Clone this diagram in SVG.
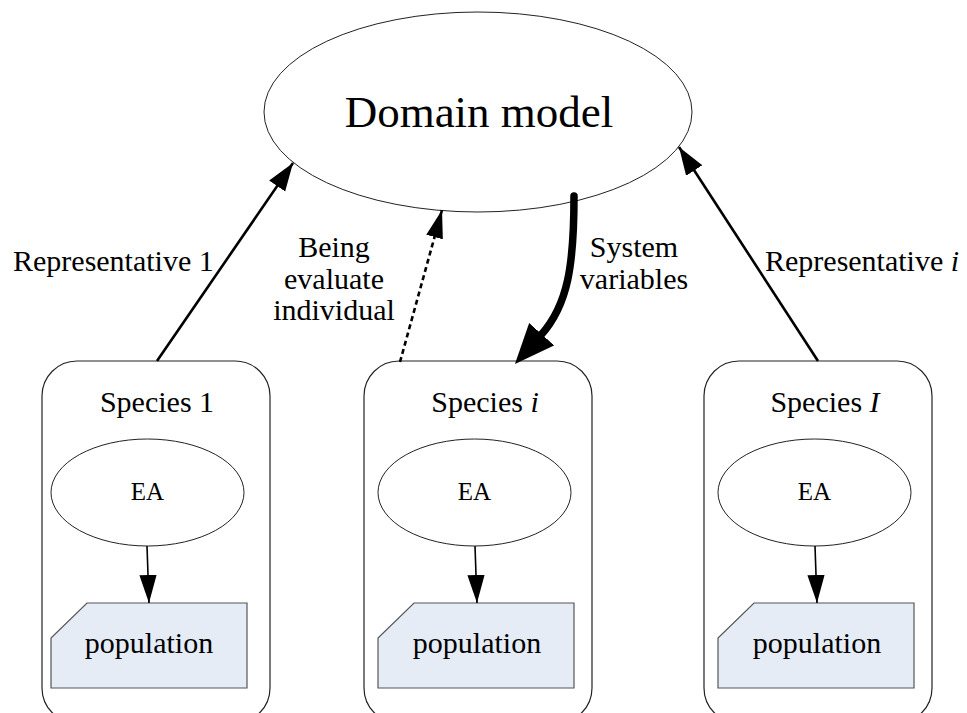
<svg xmlns="http://www.w3.org/2000/svg" width="967" height="713" viewBox="0 0 967 713">
<style>
.t{font-family:"Liberation Serif","Times New Roman","DejaVu Serif",serif;fill:#000}
.lbl{font-size:30px}
.box{fill:#fff;stroke:#222;stroke-width:1.2}
.ell{fill:#fff;stroke:#222;stroke-width:1}
.pop{fill:#e6ecf6;stroke:#555;stroke-width:1.2}
.edge{fill:none;stroke:#000;stroke-width:2.6}
.thin{fill:none;stroke:#000;stroke-width:1.6}
</style>
<defs>
<marker id="ah" markerUnits="userSpaceOnUse" markerWidth="28" markerHeight="20" viewBox="0 0 26 18" refX="26" refY="9" orient="auto"><path d="M0,0 L26,9 L0,18 Z" fill="#000"/></marker>
<marker id="ahs" markerUnits="userSpaceOnUse" markerWidth="28" markerHeight="18" viewBox="0 0 26 16" refX="26" refY="8" orient="auto"><path d="M0,0 L26,8 L0,16 Z" fill="#000"/></marker>
<marker id="ahb" markerUnits="userSpaceOnUse" markerWidth="40" markerHeight="34" viewBox="0 0 38 32" refX="1" refY="16" orient="auto"><path d="M0,0 L38,16 L0,32 Z" fill="#000"/></marker>
</defs>
<g id="domain" class="t" font-family="Liberation Serif, serif">
<ellipse class="ell" cx="478" cy="112" rx="214" ry="100"/>
<text class="t" x="479" y="127" font-size="45" text-anchor="middle" font-family="Liberation Serif, serif">Domain model</text>
</g>
<g id="species1" font-family="Liberation Serif, serif">
<rect class="box" x="42" y="361" width="228" height="362" rx="35"/>
<text class="t lbl" x="157" y="412" text-anchor="middle">Species 1</text>
<ellipse class="ell" cx="147.5" cy="492.5" rx="96.5" ry="53.5"/>
<text class="t" x="147.5" y="500" font-size="25" text-anchor="middle">EA</text>
<path class="pop" d="M87,603 H247 V688 H51 V638 Z"/>
<text class="t lbl" x="149" y="653" text-anchor="middle">population</text>
</g>
<g id="speciesi" font-family="Liberation Serif, serif">
<rect class="box" x="364" y="361" width="228" height="362" rx="35"/>
<text class="t lbl" x="485" y="412" text-anchor="middle">Species <tspan font-style="italic">i</tspan></text>
<ellipse class="ell" cx="474.5" cy="492.5" rx="96.5" ry="53.5"/>
<text class="t" x="474.5" y="500" font-size="25" text-anchor="middle">EA</text>
<path class="pop" d="M414,603 H574 V688 H378 V638 Z"/>
<text class="t lbl" x="477" y="653" text-anchor="middle">population</text>
</g>
<g id="speciesI" font-family="Liberation Serif, serif">
<rect class="box" x="704" y="361" width="228" height="362" rx="35"/>
<text class="t lbl" x="825" y="412" text-anchor="middle">Species <tspan font-style="italic">I</tspan></text>
<ellipse class="ell" cx="814.5" cy="492.5" rx="96.5" ry="53.5"/>
<text class="t" x="814.5" y="500" font-size="25" text-anchor="middle">EA</text>
<path class="pop" d="M754,603 H914 V688 H718 V638 Z"/>
<text class="t lbl" x="817" y="653" text-anchor="middle">population</text>
</g>
<g id="connectors" font-family="Liberation Serif, serif">
<path class="edge" d="M157,361 L293,163" marker-end="url(#ah)"/>
<path class="edge" d="M400,362 L442,210" stroke-dasharray="5,3.5" marker-end="url(#ahs)"/>
<path fill="none" stroke="#000" stroke-width="7.5" stroke-linecap="round" d="M574,196 C574,265 568,305 541,335" marker-end="url(#ahb)"/>
<path class="edge" d="M818,361 L679,147" marker-end="url(#ah)"/>
<path class="thin" d="M147,546 L149,603" marker-end="url(#ahs)"/>
<path class="thin" d="M475,546 L477,603" marker-end="url(#ahs)"/>
<path class="thin" d="M815,546 L817,603" marker-end="url(#ahs)"/>
<text class="t lbl" x="13" y="271">Representative 1</text>
<text class="t lbl" x="765" y="271">Representative <tspan font-style="italic">i</tspan></text>
<text class="t lbl" x="334" y="257" text-anchor="middle">Being</text>
<text class="t lbl" x="334" y="289" text-anchor="middle">evaluate</text>
<text class="t lbl" x="334" y="320" text-anchor="middle">individual</text>
<text class="t lbl" x="634" y="257" text-anchor="middle">System</text>
<text class="t lbl" x="634" y="289" text-anchor="middle">variables</text>
</g>
</svg>
